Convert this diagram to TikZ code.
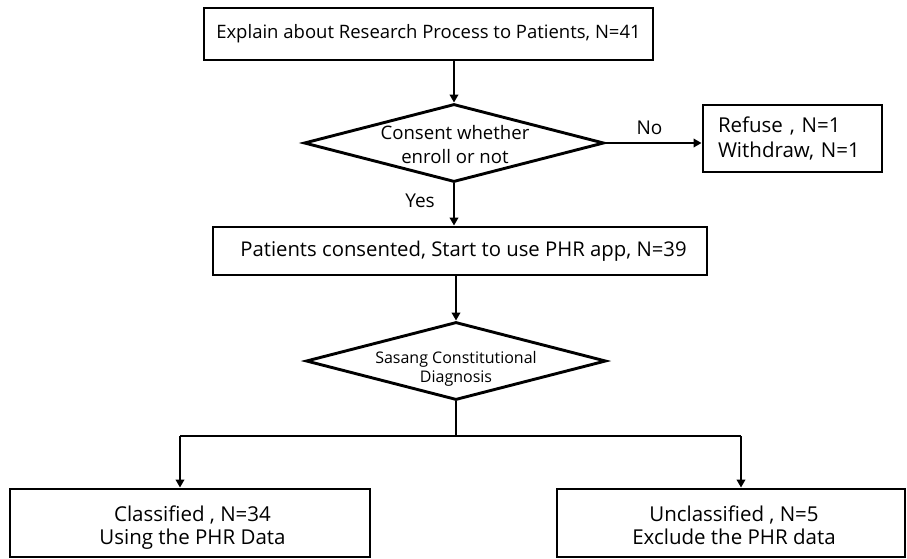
\documentclass[tikz,border=0pt]{standalone}
\usepackage{fontspec}
\setmainfont{Open Sans}
\usetikzlibrary{arrows.meta,shapes.geometric}
\begin{document}
\begin{tikzpicture}[x=1pt,y=-1pt,
  box/.style={draw, line width=2.9pt, inner sep=0pt, align=center},
  dia/.style={draw, diamond, line width=2.9pt, inner sep=0pt, minimum width=300pt, minimum height=78pt},
  arr/.style={line width=2.4pt, -{Triangle[length=8pt,width=8.5pt]}},
  ln/.style={line width=2.4pt},
  lab/.style={inner sep=0pt, align=center}]
\useasboundingbox (0,0) rectangle (907,559);
\node[box, minimum width=449pt, minimum height=52pt, font=\fontsize{18.5}{22}\selectfont] (top) at (428.5,34) {Explain about Research Process to Patients, N=41};
\node[dia] (d1) at (454,143) {};
\node[lab, font=\fontsize{18.6}{24}\selectfont] (d1t) at (455,144.5) {Consent whether\\enroll or not};
\node[box, minimum width=179pt, minimum height=67pt, text width=149pt, align=left, font=\fontsize{20.5}{25}\selectfont] (ref) at (792.5,138.5) {Refuse , N=1\\Withdraw, N=1};
\node[box, minimum width=494pt, minimum height=48pt, font=\fontsize{20.3}{24}\selectfont] (b2) at (460,251) {\hspace{7pt}Patients consented, Start to use PHR app, N=39};
\node[dia] (d2) at (456,361) {};
\node[lab, font=\fontsize{16}{19}\selectfont] (d2t) at (456,369) {Sasang Constitutional\\Diagnosis};
\node[box, minimum width=360pt, minimum height=68pt] (cl) at (190,523) {};
\node[lab, font=\fontsize{20.5}{23}\selectfont] (clt) at (192.5,528) {Classified , N=34\\Using the PHR Data};
\node[box, minimum width=348pt, minimum height=68pt] (un) at (731,523) {};
\node[lab, font=\fontsize{20.5}{23}\selectfont] (unt) at (734,525.7) {Unclassified , N=5\\Exclude the PHR data};
\node[lab, font=\fontsize{19}{22}\selectfont] (no) at (649.5,128) {No};
\node[lab, font=\fontsize{19}{22}\selectfont] (yes) at (420,201) {Yes};
\coordinate (j) at (456,436);
\coordinate (jl) at (180,436);
\coordinate (jr) at (741,436);
\draw[arr] (top.south -| d1.north) -- (d1.north);
\draw[arr] (d1.east) -- (ref.west |- d1.east);
\draw[arr] (d1.south) -- (b2.north -| d1.south);
\draw[arr] (b2.south -| d2.north) -- (d2.north);
\draw[ln] (d2.south) -- (j);
\draw[ln] (jl) -- (jr);
\draw[arr] (jl) -- (jl |- cl.north);
\draw[arr] (jr) -- (jr |- un.north);
\end{tikzpicture}
\end{document}
